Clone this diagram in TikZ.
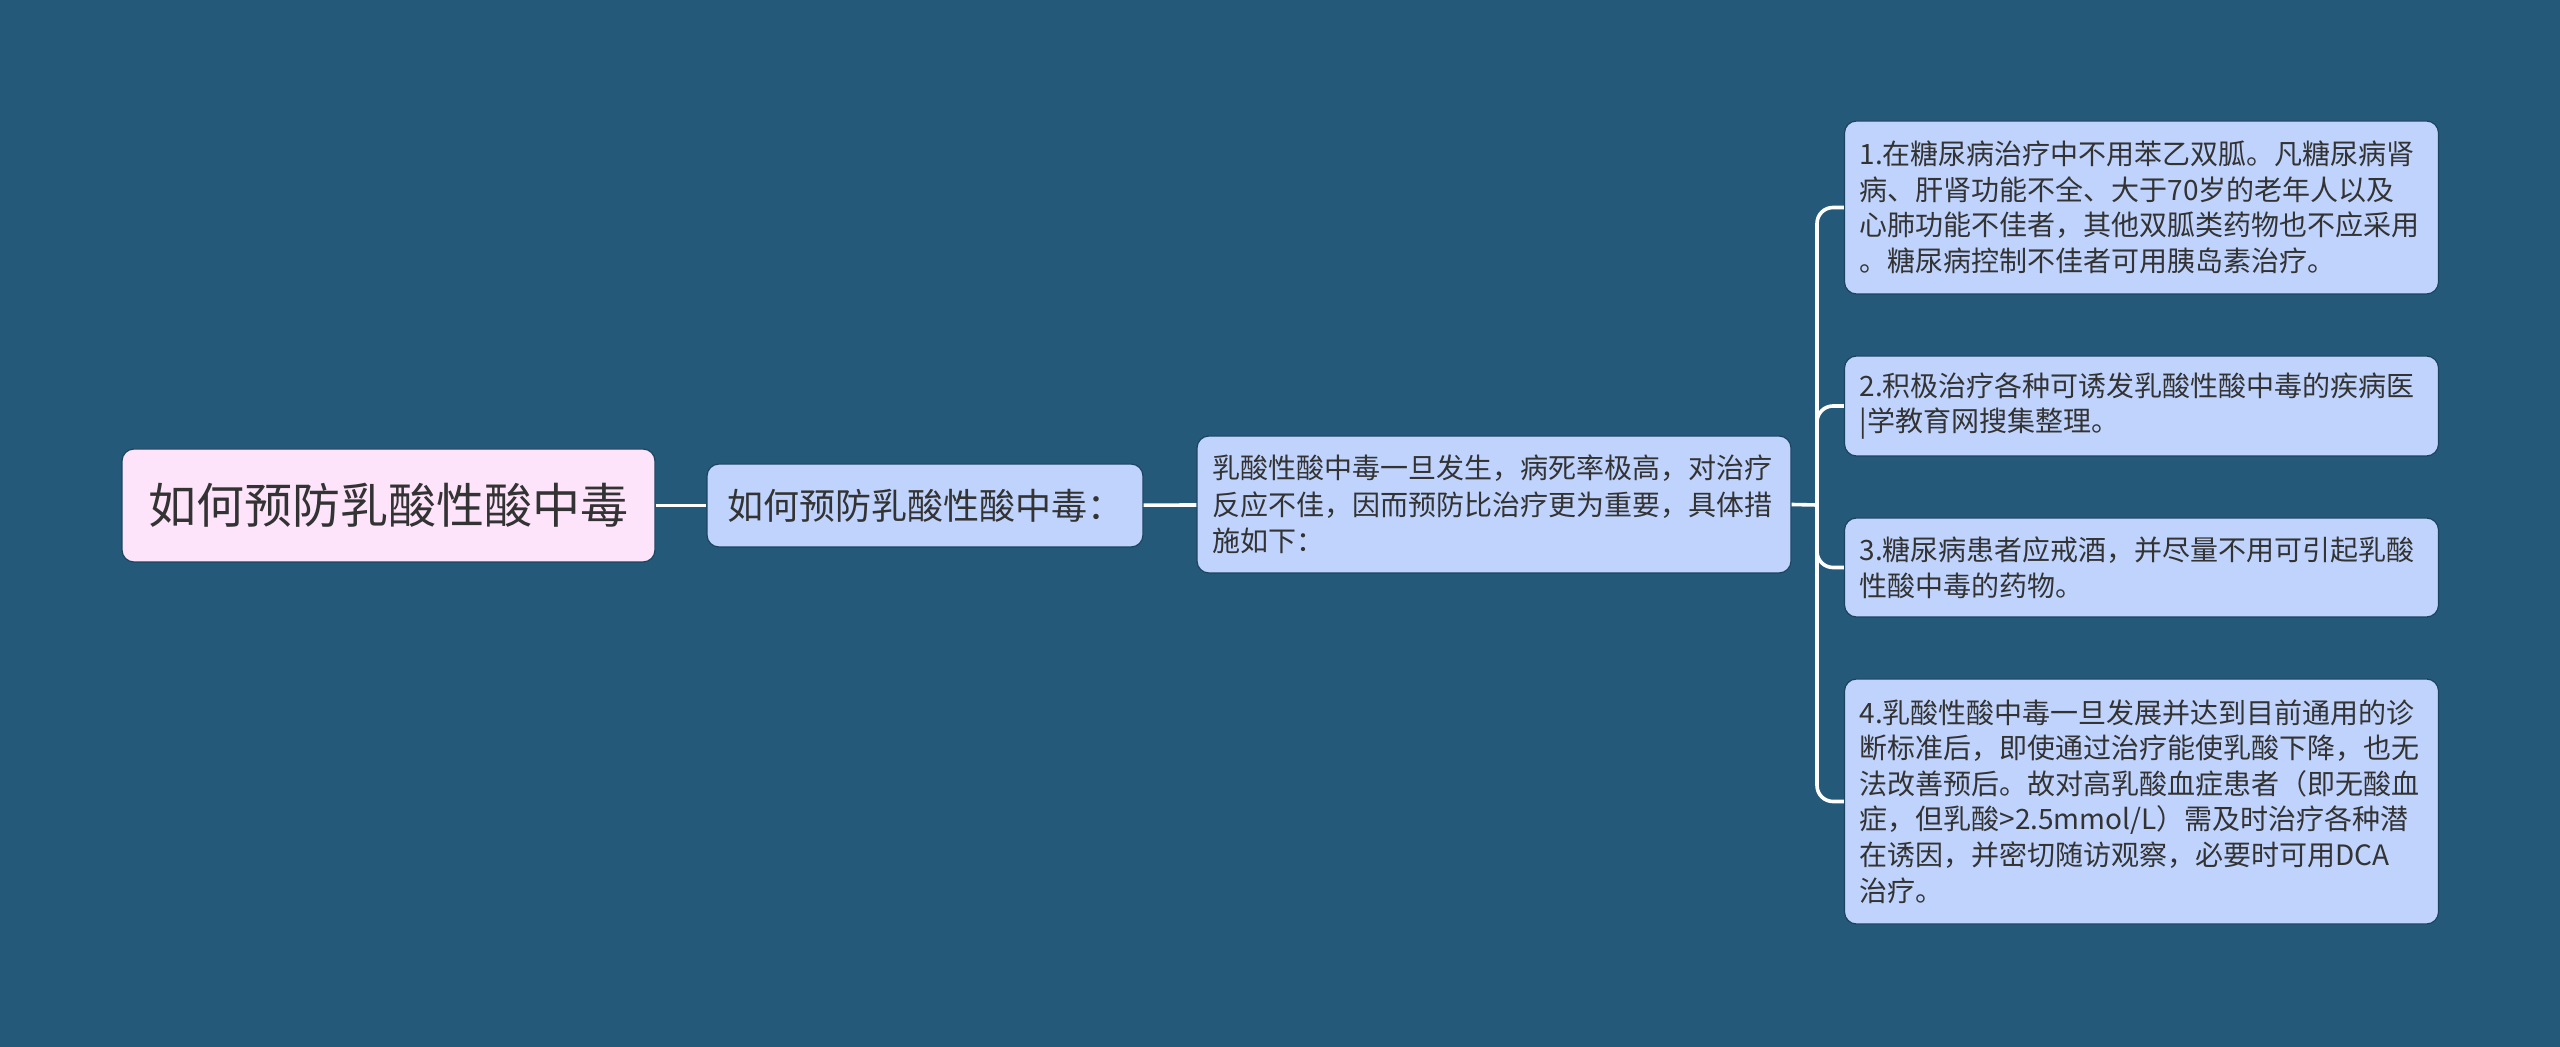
\documentclass[tikz,border=0pt]{standalone}
\usepackage{fontspec}
\setmainfont{Noto Sans CJK SC}
\usetikzlibrary{positioning}
\definecolor{hintergrund}{RGB}{36,89,122}
\definecolor{rosa}{RGB}{253,228,251}
\definecolor{hellblau}{RGB}{191,211,252}
\definecolor{rand}{RGB}{27,68,95}
\definecolor{schrift}{RGB}{51,51,51}

\begin{document}
\begin{tikzpicture}[x=0.5pt,y=0.5pt]
	\fill[hintergrund] (0,0) rectangle (2560,-1047);
	\useasboundingbox (0,0) rectangle (2560,-1047);

	\begin{scope}[every node/.style={draw=rand,line width=0.6pt,rounded corners=6pt,text=schrift,fill=hellblau,inner sep=0pt}]
		\node [fill=rosa,minimum width=266.5pt,minimum height=56.5pt,font=\fontsize{24}{28}\selectfont] (titel) at (388.5,-505.5) {如何预防乳酸性酸中毒};
		\node [minimum width=218pt,minimum height=41.5pt,font=\fontsize{18}{21}\selectfont] (frage) at (925,-505.5) {如何预防乳酸性酸中毒：};
		\node [text width=282pt,inner xsep=7.5pt,align=left,minimum height=68.5pt,font=\fontsize{14}{18.2}\selectfont] (antwort) at (1494,-504.5) {乳酸性酸中毒一旦发生，病死率极高，对治疗\\反应不佳，因而预防比治疗更为重要，具体措\\施如下：};
	\end{scope}

	\begin{scope}[every node/.style={draw=rand,line width=0.6pt,rounded corners=6pt,text=schrift,fill=hellblau,inner ysep=0pt,inner xsep=7.5pt,text width=282pt,align=left,font=\fontsize{14}{17.8}\selectfont}]
		\node [minimum height=86.5pt] (eins) at (2141.5,-207.5) {1.在糖尿病治疗中不用苯乙双胍。凡糖尿病肾\\病、肝肾功能不全、大于70岁的老年人以及\\心肺功能不佳者，其他双胍类药物也不应采用\\。糖尿病控制不佳者可用胰岛素治疗。};
		\node [minimum height=50pt] (zwei) at (2141.5,-406) {2.积极治疗各种可诱发乳酸性酸中毒的疾病医\\|学教育网搜集整理。};
		\node [minimum height=49.5pt] (drei) at (2141.5,-567.5) {3.糖尿病患者应戒酒，并尽量不用可引起乳酸\\性酸中毒的药物。};
		\node [minimum height=122.5pt] (vier) at (2141.5,-801.5) {4.乳酸性酸中毒一旦发展并达到目前通用的诊\\断标准后，即使通过治疗能使乳酸下降，也无\\法改善预后。故对高乳酸血症患者（即无酸血\\症，但乳酸>2.5mmol/L）需及时治疗各种潜\\在诱因，并密切随访观察，必要时可用DCA\\治疗。};
	\end{scope}

	\coordinate (gabel) at (1817,-505);

	\begin{scope}[white,line width=1.8pt]
		\path (titel) edge (frage);
		\path (frage) edge (antwort);
		\draw (antwort.east) -- (gabel);
		\foreach \blatt in {eins,zwei,drei,vier}
			\draw[rounded corners=8pt] (gabel) |- (\blatt.west);
	\end{scope}
\end{tikzpicture}
\end{document}
